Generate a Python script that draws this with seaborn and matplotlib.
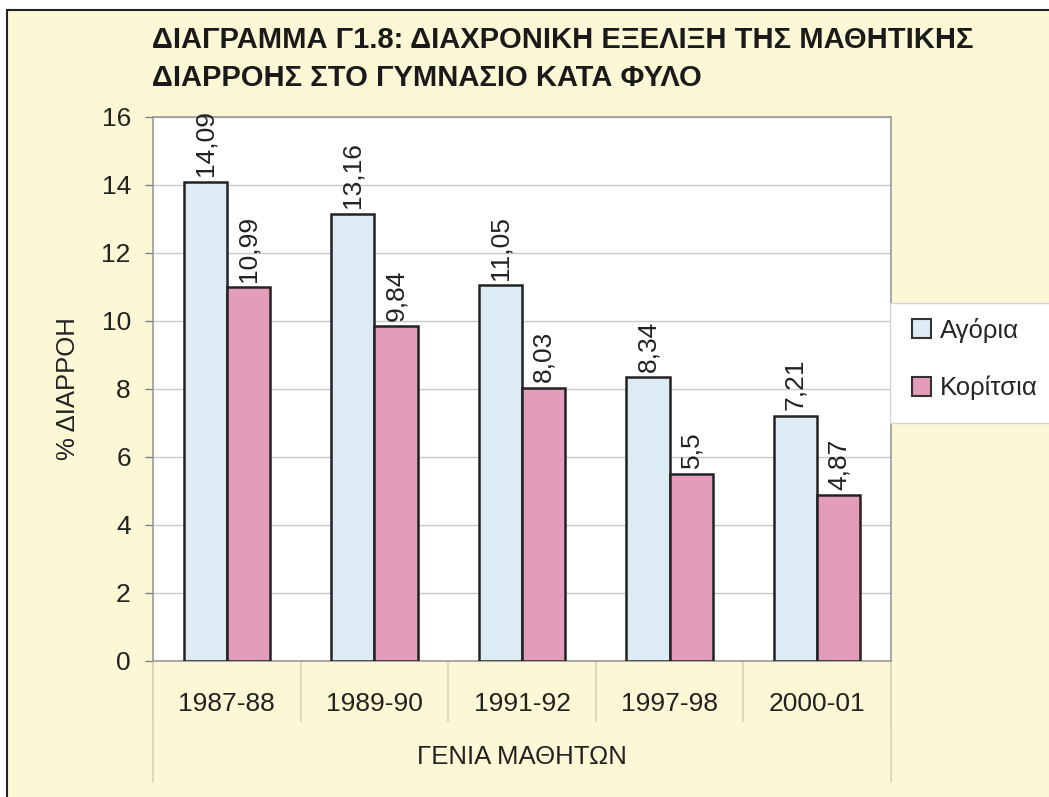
import matplotlib
matplotlib.use("Agg")
import matplotlib.pyplot as plt
from matplotlib.patches import Rectangle
import seaborn as sns
import pandas as pd

periods = ["1987-88", "1989-90", "1991-92", "1997-98", "2000-01"]
boys = [14.09, 13.16, 11.05, 8.34, 7.21]
girls = [10.99, 9.84, 8.03, 5.5, 4.87]
series_names = ["Αγόρια", "Κορίτσια"]
title = "ΔΙΑΓΡΑΜΜΑ Γ1.8: ΔΙΑΧΡΟΝΙΚΗ ΕΞΕΛΙΞΗ ΤΗΣ ΜΑΘΗΤΙΚΗΣ\nΔΙΑΡΡΟΗΣ ΣΤΟ ΓΥΜΝΑΣΙΟ ΚΑΤΑ ΦΥΛΟ"
xlabel = "ΓΕΝΙΑ ΜΑΘΗΤΩΝ"
ylabel = "% ΔΙΑΡΡΟΗ"
yticks = [0, 2, 4, 6, 8, 10, 12, 14, 16]

df = pd.DataFrame({
    "period": periods * 2,
    "value": boys + girls,
    "sex": [series_names[0]] * len(periods) + [series_names[1]] * len(periods),
})

sns.set_theme(style="white")
plt.rcParams["font.family"] = ["Liberation Sans", "DejaVu Sans"]

BG = "#FCF8D6"
BLUE = "#DDEBF5"
PINK = "#E39DBA"

fig = plt.figure(figsize=(10.49, 7.97), dpi=100, facecolor="white")
W, H = 1049, 797
# beige frame with dark border on top / left
fig.patches.append(Rectangle((7 / W, -0.01), 1.02, 1 - 10 / H + 0.01, transform=fig.transFigure,
                             facecolor=BG, edgecolor="#222222", linewidth=1.5, zorder=-10))

ax = fig.add_axes([153 / W, 1 - 661 / H, (891 - 153) / W, (661 - 117) / H])
ax.set_facecolor("white")

sns.barplot(data=df, x="period", y="value", hue="sex", order=periods, hue_order=series_names,
            palette=[BLUE, PINK], width=0.585, edgecolor="#222222", linewidth=1.8,
            saturation=1, ax=ax, legend=False, zorder=3)

ax.set_ylim(0, 16)
ax.set_xlim(-0.5, len(periods) - 0.5)
ax.set_yticks(yticks)
ax.yaxis.grid(True, color="#C9C9C9", linewidth=1.0, zorder=0)
ax.set_axisbelow(True)

for s in ax.spines.values():
    s.set_color("#9A9A9A")
    s.set_linewidth(1.2)

ax.tick_params(axis="y", which="major", length=6, width=1.0, color="#808080",
               labelsize=19, pad=10, left=True, labelcolor="#222222")
ax.tick_params(axis="x", which="major", length=0, labelsize=19, pad=22, labelcolor="#222222")
ax.set_xticks([i - 0.5 for i in range(len(periods) + 1)], minor=True)
ax.tick_params(axis="x", which="minor", length=44, width=1.2, color="#D6D3B8", bottom=True)

# outer separators extending further down
xt = ax.get_xaxis_transform()
for xv in (-0.5, len(periods) - 0.5):
    ax.plot([xv, xv], [0, -0.222], transform=xt, color="#D6D3B8", linewidth=1.2, clip_on=False)

for cont in ax.containers:
    labels = [f"{b.get_height():g}".replace(".", ",") for b in cont]
    ax.bar_label(cont, labels=labels, rotation=90, padding=4, fontsize=19, color="#222222")

ax.set_xlabel(xlabel, fontsize=18.5, color="#222222", va="center")
ax.xaxis.set_label_coords(0.5, -(757 - 661) / (661 - 117))
ax.set_ylabel(ylabel, fontsize=18.5, color="#222222", va="center", ha="center")
ax.yaxis.set_label_coords((68 - 153) / (891 - 153), 0.5)

fig.text(152 / W, 1 - 26 / H, title, ha="left", va="top", fontsize=21, fontweight="bold",
         color="#1a1a1a", linespacing=1.45)

# legend box
fig.patches.append(Rectangle((890 / W, 1 - 423 / H), 0.2, 120 / H, transform=fig.transFigure,
                             facecolor="white", edgecolor="#D5D5D5", linewidth=1.0, zorder=1))
handles = [Rectangle((0, 0), 1, 1, facecolor=c, edgecolor="#333333", linewidth=1.5) for c in (BLUE, PINK)]
fig.legend(handles, series_names, loc="center left", bbox_to_anchor=(912 / W, 1 - 359 / H),
           frameon=False, fontsize=18.5, handlelength=0.75, handleheight=0.75, handletextpad=0.35,
           labelspacing=1.3, borderaxespad=0, borderpad=0)

fig.savefig("out.png", dpi=100, facecolor=fig.get_facecolor())
